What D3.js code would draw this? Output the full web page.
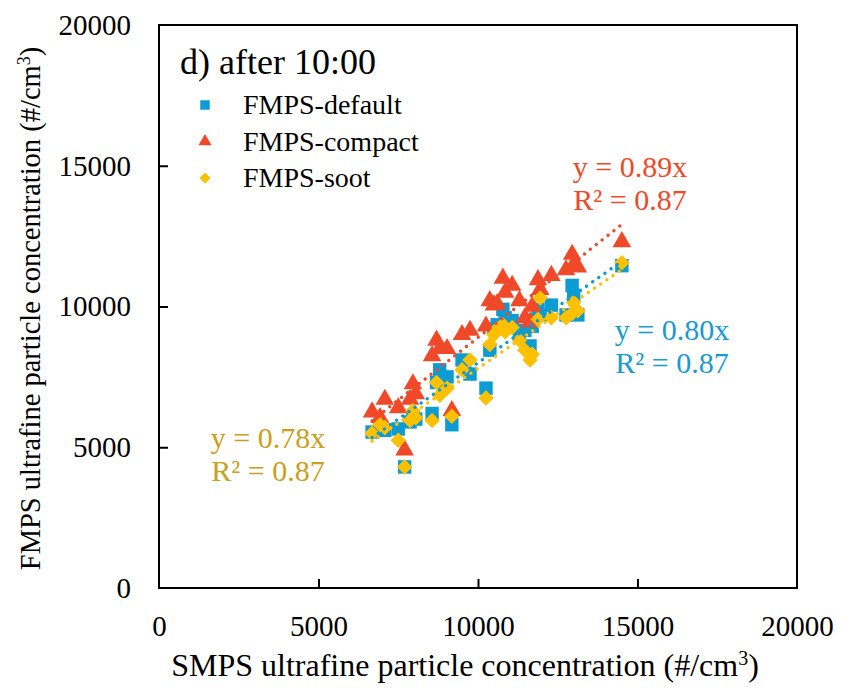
<!DOCTYPE html>
<html lang="en">
<head>
    <meta charset="UTF-8">
    <title>FMPS vs SMPS after 10:00</title>
    <script src="https://cdn.jsdelivr.net/npm/d3@7"></script>
    <style>
        body { margin: 0; background: #fff; }
    </style>
</head>
<body>
    <svg id="chart" width="843" height="694"></svg>
    <script>
        // SMPS concentration (x), shared by all three FMPS inversions
        const smps = [6680, 6930, 7080, 7500, 7700, 7870, 7960, 8050, 8560, 8700, 8800, 9030, 9180, 9500, 9750,
            10250, 10370, 10500, 10600, 10780, 10850, 11070, 11300, 11470, 11630, 11700, 11880, 11950,
            12300, 12760, 12950, 13000, 13130, 14510];
        const fmpsDefault = [5540, 5700, 5600, 5650, 4300, 5900, 6100, 6000, 6200, 7300, 7750, 7500, 5800, 8100, 7600,
            7100, 8450, 9200, 9350, 9900, 9600, 9500, 9000, 9150, 8600, 9300, 9900, 9700,
            10050, 9700, 10750, 10400, 9700, 11450];
        const fmpsCompact = [6250, 6050, 6700, 6400, 4900, 6700, 7250, 6900, 8250, 8800, 8500, 8500, 6300, 9000, 9150,
            9300, 10200, 10050, 10100, 11000, 10500, 10750, 10200, 9600, 9450, 10000, 10950, 10600,
            11100, 11300, 11850, 11500, 11400, 12300];
        const fmpsSoot = [5500, 5800, 5700, 5250, 4300, 5950, 6300, 6050, 5950, 7300, 6850, 7100, 6100, 7750, 8100,
            6750, 8650, 9000, 9200, 9350, 9100, 9250, 8800, 8450, 8100, 8300, 9550, 10300,
            9600, 9600, 9750, 10150, 9850, 11550];

        const seriesNames = ['FMPS-default', 'FMPS-compact', 'FMPS-soot'];
        const slopes = [0.80, 0.89, 0.78];
        const r2 = [0.87, 0.87, 0.87];
        const ticks = [0, 5000, 10000, 15000, 20000];

        const colors = ['#0d9bd3', '#f0492a', '#ffc000'];
        const labelColors = ['#1a9bd0', '#f0492a', '#c9a020'];
        const values = [fmpsDefault, fmpsCompact, fmpsSoot];
        const serif = 'Liberation Serif';

        // square, triangle, diamond (a square turned 45 degrees)
        const markers = [
            { type: d3.symbolSquare, size: 180, rot: 0 },
            { type: d3.symbolTriangle, size: 150, rot: 0 },
            { type: d3.symbolSquare, size: 120, rot: 45 }
        ];
        const legendScale = 0.5;

        const svg = d3.select('#chart');
        const pl = 159, pr = 797, pt = 25, pb = 588;

        const x = d3.scaleLinear().domain([0, 20000]).range([pl, pr]);
        const y = d3.scaleLinear().domain([0, 20000]).range([pb, pt]);

        // frame
        svg.append('rect')
            .attr('x', pl).attr('y', pt)
            .attr('width', pr - pl).attr('height', pb - pt)
            .attr('fill', 'none').attr('stroke', '#000').attr('stroke-width', 2);

        const xAxis = svg.append('g').attr('transform', `translate(0,${pb})`)
            .call(d3.axisBottom(x).tickValues(ticks).tickFormat(d3.format('d')).tickSize(-9).tickPadding(27));
        const yAxis = svg.append('g').attr('transform', `translate(${pl},0)`)
            .call(d3.axisLeft(y).tickValues(ticks).tickFormat(d3.format('d')).tickSize(-9).tickPadding(28));
        [xAxis, yAxis].forEach(g => {
            g.attr('font-family', serif);
            g.select('.domain').remove();
            g.selectAll('line').attr('stroke', '#000').attr('stroke-width', 2)
                .filter(d => d === 0 || d === 20000).remove();
            g.selectAll('text').attr('font-size', 29).attr('fill', '#000');
        });

        svg.append('text')
            .attr('x', 465).attr('y', 676)
            .attr('text-anchor', 'middle').attr('font-size', 32).attr('font-family', serif)
            .html('SMPS ultrafine particle concentration (#/cm<tspan baseline-shift="super" font-size="20">3</tspan>)');

        svg.append('text')
            .attr('transform', `translate(40,${(pt + pb) / 2 + 2}) rotate(-90)`)
            .attr('text-anchor', 'middle').attr('font-size', 28.5).attr('font-family', serif)
            .html('FMPS ultrafine particle concentration (#/cm<tspan baseline-shift="super" font-size="18">3</tspan>)');

        // points, drawn series by series
        values.forEach((vals, s) => {
            const m = markers[s];
            svg.append('g').selectAll('path')
                .data(smps.map((v, i) => [v, vals[i]]))
                .join('path')
                .attr('transform', d => `translate(${x(d[0])},${y(d[1])}) rotate(${m.rot})`)
                .attr('d', d3.symbol().type(m.type).size(m.size))
                .attr('fill', colors[s]);
        });

        // dotted trend lines through origin
        slopes.forEach((k, s) => {
            const x0 = d3.min(smps), x1 = d3.max(smps);
            svg.append('line')
                .attr('x1', x(x0)).attr('y1', y(k * x0))
                .attr('x2', x(x1)).attr('y2', y(k * x1))
                .attr('stroke', colors[s]).attr('stroke-width', 3.5)
                .attr('stroke-linecap', 'round').attr('stroke-dasharray', '0 7.5');
        });

        // equation labels
        const eqPos = [[672, 340], [630, 177], [268, 448]];
        slopes.forEach((k, s) => {
            const t = svg.append('text').attr('text-anchor', 'middle').attr('font-size', 30)
                .attr('font-family', serif).attr('fill', labelColors[s]);
            t.append('tspan').attr('x', eqPos[s][0]).attr('y', eqPos[s][1]).text(`y = ${k.toFixed(2)}x`);
            t.append('tspan').attr('x', eqPos[s][0]).attr('y', eqPos[s][1] + 33).text(`R² = ${r2[s].toFixed(2)}`);
        });

        // panel title and legend
        svg.append('text').attr('x', 180).attr('y', 74).attr('font-size', 36)
            .attr('font-family', serif).text('d) after 10:00');
        seriesNames.forEach((name, s) => {
            const ly = 105 + s * 36.5;
            const m = markers[s];
            svg.append('path')
                .attr('transform', `translate(205,${ly}) rotate(${m.rot})`)
                .attr('d', d3.symbol().type(m.type).size(m.size * legendScale))
                .attr('fill', colors[s]);
            svg.append('text').attr('x', 243).attr('y', ly + 9).attr('font-size', 28)
                .attr('font-family', serif).text(name);
        });
    </script>
</body>
</html>
